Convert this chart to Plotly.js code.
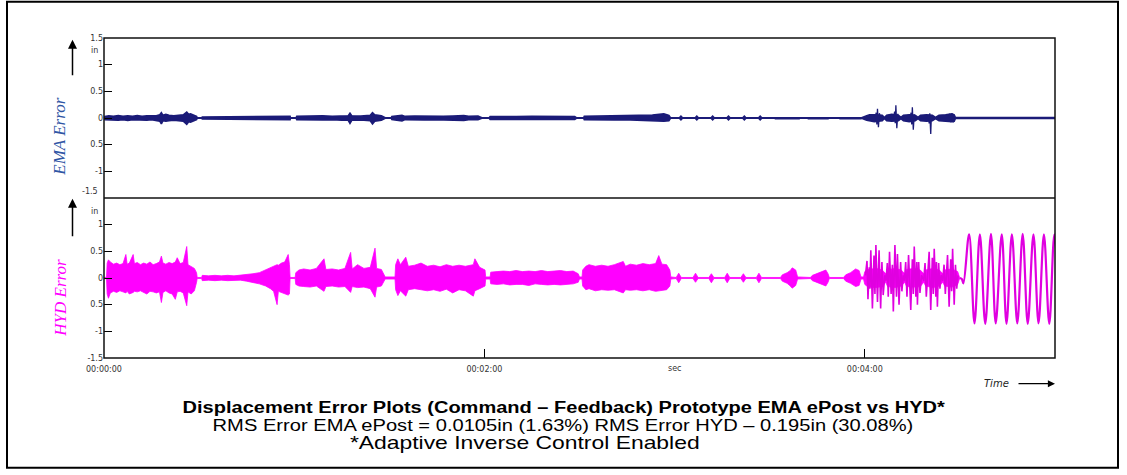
<!DOCTYPE html>
<html><head><meta charset="utf-8">
<script src="https://cdn.plot.ly/plotly-3.0.1.min.js"></script>
<style>html,body{margin:0;padding:0;background:#fff;} #chart{width:1127px;height:475px;}</style>
</head><body><div id="chart"></div>
<script>
// ---------- DATA (time in seconds, error in inches) ----------
// HYD envelope rows: [time, upper, lower]
const hydEnvelope = [
[0,0,0],[0.8,0.02,-0.02],[1.0,0.28,-0.30],[1.4,0.34,-0.38],[2,0.30,-0.28],[3,0.26,-0.25],[4,0.28,-0.27],[5,0.25,-0.24],[6,0.27,-0.26],[6.9,0.44,-0.28],[7.3,0.26,-0.25],[8,0.28,-0.30],[9.2,0.44,-0.27],[9.6,0.27,-0.25],[10.5,0.29,-0.26],[11.5,0.25,-0.24],[12.5,0.28,-0.27],[13.5,0.26,-0.30],[14.5,0.30,-0.25],[15.5,0.25,-0.26],[16.5,0.27,-0.28],[17.5,0.30,-0.26],[18.1,0.41,-0.46],[18.6,0.28,-0.27],[19.5,0.26,-0.24],[20.5,0.29,-0.28],[21.5,0.27,-0.30],[22.5,0.30,-0.40],[23.1,0.38,-0.26],[24,0.27,-0.25],[25,0.29,-0.28],[26.1,0.59,-0.52],[26.5,0.25,-0.26],[27.5,0.22,-0.30],[28.5,0.18,-0.24],[29.2,0.10,-0.08],[29.4,0.01,-0.01],
[30.8,0.01,-0.01],[31,0.05,-0.05],[33,0.04,-0.04],[35,0.05,-0.05],[37,0.04,-0.04],[39,0.05,-0.05],[41,0.04,-0.05],[43,0.05,-0.04],[45,0.06,-0.06],[47,0.08,-0.08],[49,0.10,-0.11],[51,0.15,-0.15],[52.5,0.20,-0.20],[53.5,0.22,-0.25],[54.6,0.25,-0.50],[55,0.24,-0.25],[56,0.28,-0.28],[57,0.30,-0.30],[58.1,0.44,-0.32],[58.5,0.25,-0.30],[58.7,0.01,-0.01],
[60.3,0.01,-0.01],[60.5,0.10,-0.12],[61.5,0.15,-0.15],[63,0.17,-0.16],[65,0.15,-0.17],[67,0.18,-0.15],[69.4,0.36,-0.25],[70,0.16,-0.16],[72,0.17,-0.15],[74,0.15,-0.17],[76,0.18,-0.16],[77.8,0.48,-0.27],[78.3,0.17,-0.16],[80,0.25,-0.18],[82,0.18,-0.17],[84,0.20,-0.20],[85.5,0.56,-0.36],[86,0.18,-0.17],[87.5,0.16,-0.15],[88.7,0.02,-0.02],
[91.8,0.02,-0.02],[92,0.25,-0.22],[92.7,0.36,-0.33],[93.5,0.25,-0.24],[95.2,0.39,-0.34],[96,0.22,-0.22],[98,0.24,-0.20],[100,0.28,-0.22],[102,0.22,-0.24],[104,0.24,-0.22],[106,0.21,-0.25],[108,0.25,-0.21],[110,0.22,-0.28],[112,0.24,-0.22],[114,0.22,-0.24],[116.5,0.25,-0.34],[117,0.36,-0.24],[118.5,0.20,-0.20],[120.2,0.15,-0.15],[120.4,0.02,-0.02],
[121.8,0.02,-0.02],[122,0.11,-0.11],[124,0.12,-0.12],[126,0.13,-0.11],[128,0.12,-0.13],[130,0.14,-0.12],[132,0.12,-0.12],[134,0.13,-0.14],[136,0.12,-0.11],[138,0.14,-0.12],[140,0.12,-0.13],[142,0.13,-0.12],[144,0.14,-0.13],[146,0.12,-0.12],[148,0.13,-0.11],[149.6,0.08,-0.08],[150,0.02,-0.02],
[150.8,0.02,-0.02],[151,0.15,-0.15],[152,0.22,-0.22],[153,0.25,-0.20],[155,0.22,-0.24],[157,0.24,-0.22],[159,0.22,-0.23],[161,0.25,-0.22],[163.8,0.31,-0.28],[164.5,0.22,-0.22],[166,0.26,-0.23],[168,0.24,-0.22],[170,0.27,-0.24],[172,0.25,-0.22],[174,0.27,-0.25],[175,0.42,-0.24],[176,0.26,-0.23],[177.5,0.25,-0.22],[178.5,0.15,-0.15],[178.8,0.02,-0.02],
[180.5,0.01,-0.01],[181.3,0.09,-0.09],[182.1,0.01,-0.01],[185.8,0.01,-0.01],[186.6,0.09,-0.08],[187.4,0.01,-0.01],[190.8,0.01,-0.01],[191.6,0.08,-0.09],[192.4,0.01,-0.01],[195.8,0.01,-0.01],[196.6,0.09,-0.09],[197.4,0.01,-0.01],[200.9,0.01,-0.01],[201.7,0.08,-0.08],[202.5,0.01,-0.01],[205.8,0.01,-0.01],[206.6,0.09,-0.09],[207.4,0.01,-0.01],
[213.4,0.01,-0.01],[214,0.06,-0.06],[215.5,0.10,-0.10],[216.5,0.14,-0.15],[217.1,0.19,-0.19],[218.2,0.15,-0.14],[218.8,0.02,-0.02],
[222.8,0.01,-0.01],[223.5,0.05,-0.05],[225,0.08,-0.09],[226.5,0.12,-0.12],[227.7,0.15,-0.15],[228.4,0.08,-0.08],[228.8,0.01,-0.01],
[233.3,0.01,-0.01],[234,0.06,-0.06],[235.5,0.10,-0.10],[237.1,0.17,-0.16],[238.2,0.14,-0.14],[238.8,0.02,-0.02],
[239.6,0.02,-0.02],[240,0.12,-0.12],[241,0.16,-0.17],[243.5,0.18,-0.18],[245.5,0.15,-0.16],[246.6,0.08,-0.08],[247.2,0.15,-0.16],[249.5,0.18,-0.18],[251.5,0.15,-0.15],[252.6,0.08,-0.08],[253.2,0.16,-0.16],[255.5,0.18,-0.17],[257.5,0.15,-0.16],[258.6,0.08,-0.08],[259.2,0.15,-0.15],[261.5,0.18,-0.18],[263.5,0.15,-0.15],[264.6,0.08,-0.08],[265.2,0.15,-0.15],[267.5,0.17,-0.17],[269.3,0.12,-0.12],[269.9,0.01,-0.01]
];
// HYD large oscillation bursts (peak-to-peak swings): [time, value]
const hydBursts = [
[240.2,0.05],[240.7,0.32],[241.0,-0.40],[241.4,0.20],[241.6,-0.20],[241.9,0.52],[242.4,-0.57],[242.9,0.42],[243.2,-0.30],[243.5,0.62],[244.0,-0.45],[244.5,0.52],[245.0,-0.57],[245.4,0.30],[245.8,-0.32],[246.3,0.05],
[246.7,-0.05],[247.1,0.28],[247.4,-0.35],[247.8,0.49],[248.3,-0.30],[248.7,0.25],[249.0,-0.63],[249.5,0.62],[250.0,-0.35],[250.3,0.45],[250.8,-0.50],[251.3,0.30],[251.7,-0.25],[252.1,0.05],
[252.5,-0.05],[252.9,0.30],[253.3,-0.35],[253.8,0.43],[254.5,-0.60],[255.0,0.35],[255.3,-0.30],[255.6,0.59],[256.1,-0.35],[256.4,0.30],[256.6,-0.50],[257.0,0.30],[257.4,-0.28],[257.9,0.05],
[258.6,-0.05],[259.0,0.28],[259.4,-0.35],[260.3,0.49],[260.8,-0.60],[261.3,0.38],[261.6,-0.30],[261.9,0.55],[262.4,-0.35],[262.6,0.30],[262.9,-0.54],[263.3,0.28],[263.7,-0.20],[264.1,0.05],
[264.6,-0.05],[265.0,0.25],[265.4,-0.30],[266.1,0.43],[266.6,-0.54],[267.1,0.35],[267.4,-0.25],[267.7,0.55],[268.2,-0.50],[268.6,0.25],[269.0,-0.20],[269.4,0.05]
];
// HYD final sinusoid: [time, value] at the visible peaks and troughs
const hydSine = [
[269.9,0.0],[270.6,-0.02],[271.1,-0.10],[272.9,0.82],[274.6,-0.85],[276.3,0.82],[278.0,-0.86],[279.8,0.83],[281.3,-0.85],[283.2,0.82],[284.7,-0.86],[286.4,0.82],[288.1,-0.85],[289.8,0.83],[291.4,-0.86],[293.2,0.82],[294.8,-0.85],[296.5,0.82],[298.2,-0.86],[299.8,0.82],[301.5,-0.85]
];
// EMA envelope rows: [time, upper, lower]
const emaEnvelope = [
[0,0,0],[0.3,0.03,-0.03],[1.5,0.04,-0.04],[3,0.03,-0.035],[4.5,0.045,-0.04],[6,0.03,-0.03],[7.5,0.04,-0.045],[9,0.03,-0.03],[10.5,0.045,-0.04],[12,0.03,-0.035],[13.5,0.04,-0.04],[15,0.035,-0.03],[16.5,0.04,-0.045],[17.6,0.06,-0.06],[18.1,0.10,-0.11],[18.6,0.05,-0.05],[19.5,0.07,-0.06],[20.5,0.05,-0.05],[22,0.04,-0.04],[23.5,0.05,-0.05],[25,0.06,-0.06],[26.1,0.11,-0.12],[26.7,0.07,-0.07],[27.3,0.08,-0.08],[28.3,0.05,-0.05],[29.2,0.03,-0.03],[29.4,0.005,-0.005],
[30.9,0.005,-0.005],[31,0.02,-0.02],[40,0.02,-0.02],[50,0.02,-0.02],[55,0.025,-0.025],[57,0.03,-0.03],[58.7,0.03,-0.03],[58.8,0.005,-0.005],
[60.6,0.005,-0.005],[60.8,0.03,-0.03],[63,0.035,-0.03],[66,0.03,-0.035],[69,0.04,-0.035],[72,0.03,-0.03],[75,0.035,-0.04],[77,0.04,-0.04],[77.6,0.09,-0.10],[78.2,0.04,-0.04],[81,0.035,-0.035],[84,0.05,-0.05],[84.7,0.10,-0.11],[85.4,0.06,-0.06],[87.5,0.04,-0.04],[88.7,0.005,-0.005],
[90.6,0.005,-0.005],[90.8,0.03,-0.03],[94,0.05,-0.055],[95,0.03,-0.03],[98,0.035,-0.03],[101,0.03,-0.035],[104,0.035,-0.03],[107,0.03,-0.03],[110,0.035,-0.035],[113.5,0.045,-0.045],[115,0.03,-0.03],[118,0.035,-0.03],[119.2,0.005,-0.005],
[121.5,0.005,-0.005],[121.8,0.025,-0.025],[125,0.03,-0.025],[130,0.025,-0.03],[135,0.03,-0.025],[140,0.025,-0.03],[145,0.03,-0.025],[148.5,0.025,-0.025],[149,0.005,-0.005],
[151.3,0.005,-0.005],[151.5,0.03,-0.03],[156,0.035,-0.03],[161,0.03,-0.035],[166,0.04,-0.035],[170,0.045,-0.045],[173,0.055,-0.05],[176.6,0.08,-0.06],[178.2,0.05,-0.05],[178.7,0.005,-0.005],
[181.5,0.005,-0.005],[182,0.035,-0.035],[182.5,0.005,-0.005],[186.5,0.005,-0.005],[187,0.035,-0.035],[187.5,0.005,-0.005],[191.5,0.005,-0.005],[192,0.035,-0.035],[192.5,0.005,-0.005],[196.5,0.005,-0.005],[197,0.035,-0.035],[197.5,0.005,-0.005],[201.5,0.005,-0.005],[202,0.035,-0.035],[202.5,0.005,-0.005],[206.5,0.005,-0.005],[207,0.035,-0.035],[207.5,0.005,-0.005],
[211.6,0.005,-0.005],[211.8,0.015,-0.015],[219.3,0.015,-0.015],[219.5,0.005,-0.005],[222,0.005,-0.005],[222.2,0.015,-0.015],[228.4,0.015,-0.015],[228.6,0.005,-0.005],[232,0.005,-0.005],[232.2,0.015,-0.015],[238.8,0.015,-0.015],[239,0.005,-0.005],
[240.6,0.04,-0.04],[241.5,0.06,-0.06],[243,0.06,-0.07],[245.5,0.05,-0.05],[246.2,0.01,-0.01],[246.9,0.05,-0.05],[248.5,0.07,-0.06],[250.6,0.05,-0.05],[251.4,0.01,-0.01],[252.2,0.05,-0.05],[254,0.06,-0.07],[255.9,0.05,-0.05],[256.8,0.01,-0.01],[257.6,0.05,-0.05],[259.5,0.06,-0.06],[261.3,0.05,-0.05],[262.3,0.01,-0.01],[263.4,0.05,-0.05],[265.5,0.06,-0.06],[267.5,0.08,-0.07],[268.2,0.06,-0.06],[268.6,0.01,-0.01],
[270.6,0.008,-0.008],[300,0.008,-0.008]
];
// EMA short spikes inside the 240-270 s bursts: [time, value]
const emaBursts = [
[243.3,0.0],[243.6,0.10],[243.8,-0.12],[244.0,0.175],[244.3,-0.175],[244.6,0.09],[244.9,0.0],
[249.1,0.0],[249.4,0.12],[249.6,-0.10],[249.8,0.24],[250.1,-0.19],[250.4,0.08],[250.6,0.0],
[254.3,0.0],[254.6,0.10],[254.8,-0.12],[255.0,0.20],[255.3,-0.22],[255.6,0.07],[255.8,0.0],
[259.9,0.0],[260.1,0.06],[260.3,-0.10],[260.5,0.09],[260.8,-0.30],[261.0,0.05],[261.2,0.0],
[266.5,0.0],[266.8,0.08],[267.1,-0.08],[267.5,0.08],[267.9,-0.08],[268.2,0.0]
];
// Axis ticks
const xTickVals = [0, 120, 240];
const xTickText = ['00:00:00', '00:02:00', '00:04:00'];
const yTopTickVals = [-1, -0.5, 0, 0.5, 1, 1.5];
const yTopTickText = ['-1', '0.5', '0', '0.5', '1', '1.5'];
const yBotTickVals = [-1.5, -1, -0.5, 0, 0.5, 1];
const yBotTickText = ['-1.5', '-1', '0.5', '0', '0.5', '1'];
const captionLines = [
  'Displacement Error Plots (Command – Feedback) Prototype EMA ePost vs HYD*',
  'RMS Error EMA ePost = 0.0105in (1.63%) RMS Error HYD – 0.195in (30.08%)',
  '*Adaptive Inverse Control Enabled'
];

// ---------- BUILD ----------
const EMA_COL = '#1b1b78', HYD_COL = '#ff00ff';
function band(rows, yaxis, color, lw) {
  const t = rows.map(r => r[0]);
  const up = rows.map(r => r[1]);
  const lo = rows.map(r => r[2]);
  return {
    type: 'scatter', mode: 'lines', xaxis: 'x', yaxis: yaxis,
    x: t.concat(t.slice().reverse()),
    y: up.concat(lo.slice().reverse()),
    fill: 'toself', fillcolor: color,
    line: {color: color, width: lw}, hoverinfo: 'skip'
  };
}
function line(rows, yaxis, color, lw, shape) {
  return {
    type: 'scatter', mode: 'lines', xaxis: 'x', yaxis: yaxis,
    x: rows.map(r => r[0]), y: rows.map(r => r[1]),
    line: {color: color, width: lw, shape: shape || 'linear', smoothing: 1},
    hoverinfo: 'skip'
  };
}
const traces = [
  band(emaEnvelope, 'y', EMA_COL, 1.6),
  line(emaBursts, 'y', EMA_COL, 1.3),
  band(hydEnvelope, 'y2', HYD_COL, 0.8),
  line(hydBursts, 'y2', '#e000e0', 1.6),
  line(hydSine, 'y2', '#e000e0', 2.2, 'spline')
];

const tickFont = {family: 'DejaVu Sans, Verdana, sans-serif', size: 8, color: '#333'};
const yCommon = {range: [-1.5, 1.5], ticks: 'inside', ticklen: 8, tickcolor: '#000', tickwidth: 1,
  showgrid: false, zeroline: false, showline: false, tickfont: tickFont, fixedrange: true};
// helpers to place pixel positions in paper coordinates
const L = 104, R = 1055, T = 38.3, B = 358.3;
const px = v => (v - L) / (R - L);
const py = v => (B - v) / (B - T);

// caption placement (centre x, centre y, target width in px, font size)
const capFont = 'Liberation Sans, Arial, sans-serif';
const capBox = [[564, 408, 763, 17], [563, 425.5, 701, 17], [525, 443, 350, 17.5]];

function ann(o) { return Object.assign({xref: 'paper', yref: 'paper', showarrow: false, xanchor: 'center', yanchor: 'middle'}, o); }
const layout = {
  width: 1127, height: 475,
  margin: {l: 104, r: 72, t: 38, b: 117, pad: 0},
  paper_bgcolor: '#fff', plot_bgcolor: '#fff', showlegend: false,
  xaxis: {domain: [0, 1], range: [0, 300], anchor: 'y2', tickvals: xTickVals, ticktext: xTickText,
    ticks: 'inside', ticklen: 9, tickcolor: '#000', showgrid: false, zeroline: false, showline: false,
    ticklabelstandoff: 5, tickfont: tickFont, fixedrange: true},
  yaxis: Object.assign({domain: [0.5, 1], anchor: 'x', tickvals: yTopTickVals, ticktext: yTopTickText}, yCommon),
  yaxis2: Object.assign({domain: [0, 0.5], anchor: 'x', tickvals: yBotTickVals, ticktext: yBotTickText}, yCommon),
  shapes: [
    {type: 'rect', xref: 'paper', yref: 'paper', x0: 0, x1: 1, y0: 0, y1: 1, line: {color: '#111', width: 1.5}},
    {type: 'line', xref: 'paper', yref: 'paper', x0: 0, x1: 1, y0: 0.5, y1: 0.5, line: {color: '#111', width: 1.5}},
    {type: 'rect', xref: 'paper', yref: 'paper', x0: px(7), x1: px(1118), y0: py(468), y1: py(2), line: {color: '#000', width: 2}}
  ],
  annotations: [
    ann({x: px(100), y: py(192), xanchor: 'right', text: '-1.5', font: tickFont}),
    ann({x: px(100), y: py(51), xanchor: 'right', text: 'in', font: tickFont}),
    ann({x: px(100), y: py(212), xanchor: 'right', text: 'in', font: tickFont}),
    ann({xref: 'x', x: 180, y: py(369), text: 'sec', font: tickFont}),
    ann({x: px(60), y: py(137), textangle: -90, text: '<i>EMA Error</i>',
      font: {family: 'Liberation Serif, Times New Roman, serif', size: 17, color: '#2f55a4'}}),
    ann({x: px(61), y: py(298), textangle: -90, text: '<i>HYD Error</i>',
      font: {family: 'Liberation Serif, Times New Roman, serif', size: 17, color: HYD_COL}}),
    ann({x: px(72.5), y: py(40), ax: 0, ay: 37, text: '', showarrow: true,
      arrowhead: 2, arrowsize: 1.2, arrowwidth: 1.5, arrowcolor: '#000'}),
    ann({x: px(72.5), y: py(199), ax: 0, ay: 39, text: '', showarrow: true,
      arrowhead: 2, arrowsize: 1.2, arrowwidth: 1.5, arrowcolor: '#000'}),
    ann({x: px(1055), y: py(384), ax: -38, ay: 0, text: '', showarrow: true,
      arrowhead: 2, arrowsize: 1.1, arrowwidth: 1.3, arrowcolor: '#000'}),
    ann({x: px(996), y: py(384), text: '<i>Time</i>',
      font: {family: 'DejaVu Sans, sans-serif', size: 10, color: '#222'}}),
    ann({x: px(capBox[0][0]), y: py(capBox[0][1]), text: '<b>' + captionLines[0] + '</b>',
      font: {family: capFont, size: capBox[0][3], color: '#000'}}),
    ann({x: px(capBox[1][0]), y: py(capBox[1][1]), text: captionLines[1],
      font: {family: capFont, size: capBox[1][3], color: '#000'}}),
    ann({x: px(capBox[2][0]), y: py(capBox[2][1]), text: captionLines[2],
      font: {family: capFont, size: capBox[2][3], color: '#000'}})
  ]
};
Plotly.newPlot('chart', traces, layout, {staticPlot: true, displayModeBar: false}).then(gd => {
  // stretch the caption lines horizontally to the widths seen in the reference
  gd.querySelectorAll('text.annotation-text').forEach(node => {
    const i = captionLines.indexOf(node.textContent);
    if (i < 0) return;
    const bb = node.getBBox();
    const s = capBox[i][2] / bb.width;
    const cx = bb.x + bb.width / 2;
    node.setAttribute('transform', 'translate(' + cx + ',0) scale(' + s + ',1) translate(' + (-cx) + ',0)');
  });
});
</script></body></html>
